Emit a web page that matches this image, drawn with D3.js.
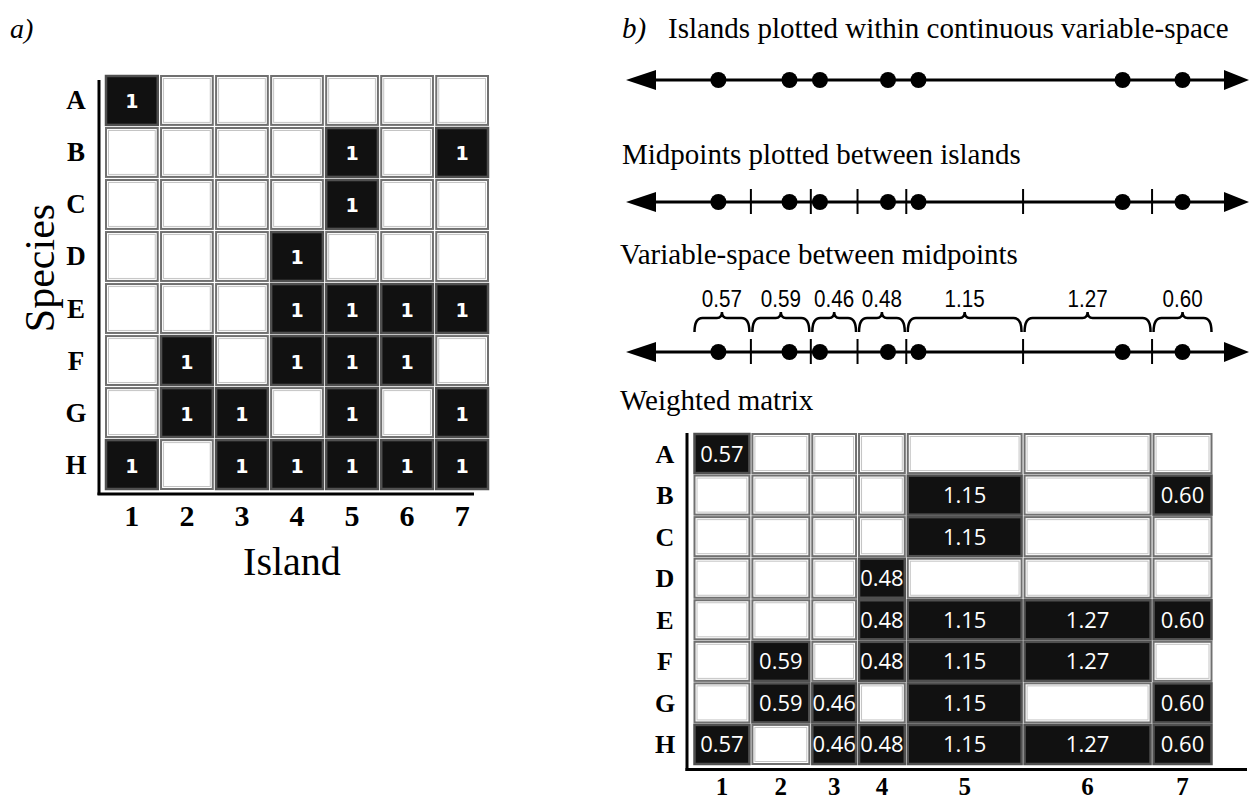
<!DOCTYPE html>
<html>
<head>
<meta charset="utf-8">
<script src="https://cdnjs.cloudflare.com/ajax/libs/d3/7.8.5/d3.min.js"></script>
<style>
  body { margin: 0; background: #fff; }
  svg { display: block; }
</style>
</head>
<body>
<div id="chart"></div>
<script>
// Data
var species = ["A", "B", "C", "D", "E", "F", "G", "H"];
var islands = [1, 2, 3, 4, 5, 6, 7];
// presence (1) / absence (0) of each species on each island
var presence = [
    [1, 0, 0, 0, 0, 0, 0],
    [0, 0, 0, 0, 1, 0, 1],
    [0, 0, 0, 0, 1, 0, 0],
    [0, 0, 0, 1, 0, 0, 0],
    [0, 0, 0, 1, 1, 1, 1],
    [0, 1, 0, 1, 1, 1, 0],
    [0, 1, 1, 0, 1, 0, 1],
    [1, 0, 1, 1, 1, 1, 1]
];
// island positions along the continuous variable
var islandPos = [0.25, 0.95, 1.25, 1.92, 2.22, 4.23, 4.82];
// midpoints between neighbouring islands
var midpoints = [0.57, 1.16, 1.62, 2.10, 3.25, 4.52];
// outer edges of the variable-space
var spaceEdges = [0, 0.57, 1.16, 1.62, 2.10, 3.25, 4.52, 5.12];
// width of variable-space owned by each island
var spaceWidths = ["0.57", "0.59", "0.46", "0.48", "1.15", "1.27", "0.60"];

var W = 1249, H = 801;
var serif = "'Liberation Serif', 'Times New Roman', serif";

var svg = d3.select("#chart").append("svg")
    .attr("width", W)
    .attr("height", H);

// ---------- panel a ----------
var xa = d3.scaleBand().domain(islands).range([106, 488]).paddingInner(0.06);
var ya = d3.scaleBand().domain(species).range([76, 489]).paddingInner(0.06);

var cellsA = [];
species.forEach(function (s, i) {
    islands.forEach(function (k, j) {
        cellsA.push({ sp: s, isl: k, v: presence[i][j] });
    });
});

function drawCell(g, x, y, w, h, on) {
    if (on) {
        g.append("rect")
            .attr("x", x).attr("y", y).attr("width", w).attr("height", h)
            .attr("fill", "#111")
            .attr("stroke", "#505050")
            .attr("stroke-width", 2.5);
    } else {
        g.append("rect")
            .attr("x", x).attr("y", y).attr("width", w).attr("height", h)
            .attr("fill", "#fff")
            .attr("stroke", "#707070")
            .attr("stroke-width", 2);
        g.append("rect")
            .attr("x", x + 2.5).attr("y", y + 2.5).attr("width", w - 5).attr("height", h - 5)
            .attr("fill", "none")
            .attr("stroke", "#c4c4c4")
            .attr("stroke-width", 1);
    }
}

var gA = svg.append("g").attr("class", "panelA");
cellsA.forEach(function (d) {
    drawCell(gA, xa(d.isl), ya(d.sp), xa.bandwidth(), ya.bandwidth(), d.v);
});
gA.selectAll(".oneLab")
    .data(cellsA.filter(function (d) { return d.v; }))
    .enter()
    .append("text")
    .attr("x", function (d) { return xa(d.isl) + xa.bandwidth() / 2; })
    .attr("y", function (d) { return ya(d.sp) + ya.bandwidth() / 2 + 8; })
    .attr("text-anchor", "middle")
    .style("font-family", "'DejaVu Sans', sans-serif")
    .style("font-weight", "bold")
    .style("font-size", "19px")
    .style("fill", "#fff")
    .text(function (d) { return d.v; });

// axes lines
gA.append("line").attr("x1", 99).attr("x2", 99).attr("y1", 80).attr("y2", 495)
    .attr("stroke", "#000").attr("stroke-width", 3);
gA.append("line").attr("x1", 97.5).attr("x2", 474).attr("y1", 494).attr("y2", 494)
    .attr("stroke", "#000").attr("stroke-width", 3);

gA.selectAll(".rowLab")
    .data(species)
    .enter()
    .append("text")
    .attr("x", 76)
    .attr("y", function (d) { return ya(d) + ya.bandwidth() / 2 + 9; })
    .attr("text-anchor", "middle")
    .style("font-family", serif)
    .style("font-weight", "bold")
    .style("font-size", "27px")
    .text(function (d) { return d; });

gA.selectAll(".colLab")
    .data(islands)
    .enter()
    .append("text")
    .attr("x", function (d) { return xa(d) + xa.bandwidth() / 2; })
    .attr("y", 526)
    .attr("text-anchor", "middle")
    .style("font-family", serif)
    .style("font-weight", "bold")
    .style("font-size", "30px")
    .text(function (d) { return d; });

gA.append("text")
    .attr("x", 292).attr("y", 575)
    .attr("text-anchor", "middle")
    .style("font-family", serif)
    .style("font-size", "40px")
    .text("Island");

gA.append("text")
    .attr("transform", "translate(54,268) rotate(-90)")
    .attr("text-anchor", "middle")
    .style("font-family", serif)
    .style("font-size", "42px")
    .text("Species");

gA.append("text")
    .attr("x", 10).attr("y", 38)
    .style("font-family", serif)
    .style("font-style", "italic")
    .style("font-size", "28px")
    .text("a)");

// ---------- panel b ----------
var xb = d3.scaleLinear().domain([0, 5.12]).range([693, 1213]);
var lineL = 626, lineR = 1249;
var gB = svg.append("g").attr("class", "panelB");

gB.append("text")
    .attr("x", 622).attr("y", 38)
    .style("font-family", serif)
    .style("font-style", "italic")
    .style("font-size", "29px")
    .text("b)");

function title(txt, x, y) {
    gB.append("text")
        .attr("x", x).attr("y", y)
        .style("font-family", serif)
        .style("font-size", "29px")
        .text(txt);
}
title("Islands plotted within continuous variable-space", 668, 38);
title("Midpoints plotted between islands", 622, 164);
title("Variable-space between midpoints", 620, 264);
title("Weighted matrix", 620, 410);

function numberLine(y, ticks) {
    var g = gB.append("g");
    g.append("line")
        .attr("x1", lineL + 20).attr("x2", lineR - 18)
        .attr("y1", y).attr("y2", y)
        .attr("stroke", "#000").attr("stroke-width", 3);
    g.append("path")
        .attr("d", "M" + lineL + "," + y + "L" + (lineL + 30) + "," + (y - 10) + "L" + (lineL + 30) + "," + (y + 10) + "Z")
        .attr("fill", "#000");
    g.append("path")
        .attr("d", "M" + lineR + "," + y + "L" + (lineR - 25) + "," + (y - 10) + "L" + (lineR - 25) + "," + (y + 10) + "Z")
        .attr("fill", "#000");
    if (ticks) {
        g.selectAll(".tick")
            .data(midpoints)
            .enter()
            .append("line")
            .attr("x1", function (d) { return xb(d); })
            .attr("x2", function (d) { return xb(d); })
            .attr("y1", y - 13).attr("y2", y + 12)
            .attr("stroke", "#000").attr("stroke-width", 2);
    }
    g.selectAll(".dot")
        .data(islandPos)
        .enter()
        .append("circle")
        .attr("cx", function (d) { return xb(d); })
        .attr("cy", y)
        .attr("r", 8)
        .attr("fill", "#000");
}
numberLine(80, false);
numberLine(202, true);
numberLine(352, true);

// braces over each island's variable-space
var braces = spaceWidths.map(function (w, i) {
    return { lab: w, x0: xb(spaceEdges[i]) + 1.5, x1: xb(spaceEdges[i + 1]) - 1.5 };
});
var yb = 332, yt = 318, ytip = 312, r = 8;
gB.selectAll(".brace")
    .data(braces)
    .enter()
    .append("path")
    .attr("d", function (d) {
        var xm = (d.x0 + d.x1) / 2;
        return "M" + d.x0 + "," + yb +
            "Q" + d.x0 + "," + yt + " " + (d.x0 + r) + "," + yt +
            "L" + (xm - 5) + "," + yt +
            "Q" + xm + "," + yt + " " + xm + "," + ytip +
            "Q" + xm + "," + yt + " " + (xm + 5) + "," + yt +
            "L" + (d.x1 - r) + "," + yt +
            "Q" + d.x1 + "," + yt + " " + d.x1 + "," + yb;
    })
    .attr("fill", "none")
    .attr("stroke", "#000")
    .attr("stroke-width", 2.5);
gB.selectAll(".braceLab")
    .data(braces)
    .enter()
    .append("text")
    .attr("transform", function (d) { return "translate(" + ((d.x0 + d.x1) / 2) + ",307) scale(0.86,1)"; })
    .attr("text-anchor", "middle")
    .style("font-family", "'Liberation Sans', Arial, sans-serif")
    .style("font-size", "24px")
    .text(function (d) { return d.lab; });

// weighted matrix
var yw = d3.scaleBand().domain(species).range([434, 764]).paddingInner(0.06);
var cellsB = [];
species.forEach(function (s, i) {
    islands.forEach(function (k, j) {
        cellsB.push({ sp: s, j: j, v: presence[i][j], lab: spaceWidths[j] });
    });
});
cellsB.forEach(function (d) {
    var x0 = xb(spaceEdges[d.j]) + 1.5, x1 = xb(spaceEdges[d.j + 1]) - 1.5;
    drawCell(gB, x0, yw(d.sp), x1 - x0, yw.bandwidth(), d.v);
});
gB.selectAll(".wLab")
    .data(cellsB.filter(function (d) { return d.v; }))
    .enter()
    .append("text")
    .attr("x", function (d) { return (xb(spaceEdges[d.j]) + xb(spaceEdges[d.j + 1])) / 2; })
    .attr("y", function (d) { return yw(d.sp) + yw.bandwidth() / 2 + 8; })
    .attr("text-anchor", "middle")
    .style("font-family", "'Open Sans', sans-serif")
    .style("font-size", "22px")
    .style("fill", "#fff")
    .text(function (d) { return d.lab; });

gB.append("line").attr("x1", 687).attr("x2", 687).attr("y1", 433).attr("y2", 771)
    .attr("stroke", "#000").attr("stroke-width", 3);
gB.append("line").attr("x1", 685.5).attr("x2", 1247).attr("y1", 769.5).attr("y2", 769.5)
    .attr("stroke", "#000").attr("stroke-width", 3);

gB.selectAll(".rowLabB")
    .data(species)
    .enter()
    .append("text")
    .attr("x", 665)
    .attr("y", function (d) { return yw(d) + yw.bandwidth() / 2 + 9; })
    .attr("text-anchor", "middle")
    .style("font-family", serif)
    .style("font-weight", "bold")
    .style("font-size", "26px")
    .text(function (d) { return d; });

gB.selectAll(".colLabB")
    .data(islands)
    .enter()
    .append("text")
    .attr("x", function (d, i) { return (xb(spaceEdges[i]) + xb(spaceEdges[i + 1])) / 2; })
    .attr("y", 795)
    .attr("text-anchor", "middle")
    .style("font-family", serif)
    .style("font-weight", "bold")
    .style("font-size", "25px")
    .text(function (d) { return d; });
</script>
</body>
</html>
